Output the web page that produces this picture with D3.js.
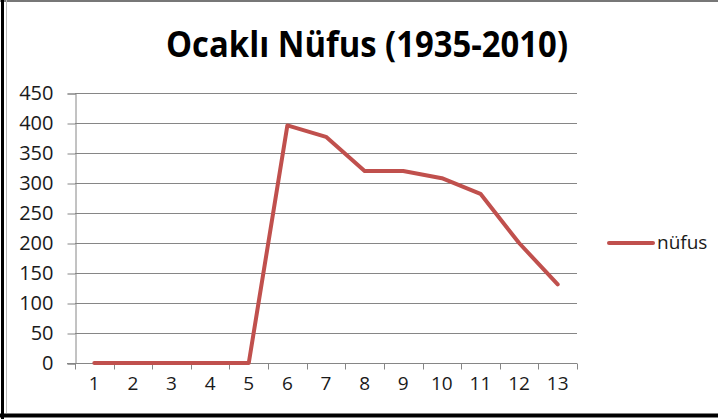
<!DOCTYPE html>
<html>
<head>
<meta charset="utf-8">
<script src="https://cdn.jsdelivr.net/npm/d3@7"></script>
<style>
  body { margin: 0; background: #fff; }
  text { font-family: 'Open Sans', sans-serif; }
</style>
</head>
<body>
<script>
// Ocaklı nüfus, 13 sayım (1935-2010)
const categories = ['1', '2', '3', '4', '5', '6', '7', '8', '9', '10', '11', '12', '13']
const nufus = [0, 0, 0, 0, 0, 396, 377, 320, 320, 308, 282, 200, 131]
const yTicks = [0, 50, 100, 150, 200, 250, 300, 350, 400, 450]
const seriesName = 'nüfus'
const title = 'Ocaklı Nüfus (1935-2010)'

const width = 718
const height = 419
const plot = { left: 75, right: 577, top: 93, bottom: 363 }
const gridColor = '#868686'
const lineColor = '#C0504D'

const svg = d3.select('body')
  .append('svg')
  .attr('width', width)
  .attr('height', height)

// frame (screenshot border)
svg.append('line').attr('x1', 0).attr('x2', width).attr('y1', 1).attr('y2', 1)
  .attr('stroke', '#777').attr('stroke-width', 2)
svg.append('line').attr('x1', 2.5).attr('x2', 2.5).attr('y1', 0).attr('y2', height)
  .attr('stroke', '#000').attr('stroke-width', 3)
svg.append('line').attr('x1', 6.5).attr('x2', 6.5).attr('y1', 0).attr('y2', 413)
  .attr('stroke', '#bbb').attr('stroke-width', 1)
svg.append('line').attr('x1', 0).attr('x2', width).attr('y1', 415.5).attr('y2', 415.5)
  .attr('stroke', '#000').attr('stroke-width', 4)

// title
svg.append('text')
  .attr('x', 367)
  .attr('y', 57)
  .attr('text-anchor', 'middle')
  .attr('font-size', 36)
  .attr('font-weight', 'bold')
  .attr('fill', '#000')
  .attr('textLength', 402)
  .attr('lengthAdjust', 'spacingAndGlyphs')
  .text(title)

const x = d3.scaleBand()
  .domain(categories)
  .range([plot.left, plot.right])

const y = d3.scaleLinear()
  .domain([0, 450])
  .range([plot.bottom, plot.top])

// horizontal gridlines
svg.append('g')
  .selectAll('line')
  .data(yTicks.filter(d => d > 0))
  .enter()
  .append('line')
  .attr('x1', plot.left)
  .attr('x2', plot.right)
  .attr('y1', d => Math.round(y(d)) + 0.5)
  .attr('y2', d => Math.round(y(d)) + 0.5)
  .attr('stroke', gridColor)
  .attr('stroke-width', 1)

// y axis
const yAxis = svg.append('g')
  .attr('transform', `translate(${plot.left + 0.5},0.5)`)
  .call(d3.axisLeft(y).tickValues(yTicks).tickSize(8).tickPadding(14))
yAxis.select('.domain').attr('stroke', gridColor)
yAxis.selectAll('.tick line').attr('stroke', gridColor)
yAxis.selectAll('.tick text')
  .attr('font-size', 20)
  .attr('fill', '#1a1a1a')
  .style('font-family', "'Open Sans', sans-serif")

// x axis (ticks between categories)
const xAxis = svg.append('g')
  .attr('transform', `translate(0,${plot.bottom + 0.5})`)
  .call(d3.axisBottom(x).tickSize(0).tickPadding(13))
xAxis.select('.domain').remove()
xAxis.append('line')
  .attr('x1', plot.left - 8).attr('x2', plot.right)
  .attr('stroke', gridColor)
xAxis.selectAll('.boundary')
  .data(categories.concat(['end']))
  .enter()
  .append('line')
  .attr('class', 'boundary')
  .attr('x1', (d, i) => Math.round(plot.left + i * x.step()) + 0.5)
  .attr('x2', (d, i) => Math.round(plot.left + i * x.step()) + 0.5)
  .attr('y1', 0)
  .attr('y2', 6)
  .attr('stroke', gridColor)
xAxis.selectAll('.tick text')
  .attr('font-size', 19)
  .attr('fill', '#1a1a1a')
  .style('font-family', "'Open Sans', sans-serif")

// series line
const line = d3.line()
  .x((d, i) => x(categories[i]) + x.bandwidth() / 2)
  .y(d => y(d))

svg.append('path')
  .datum(nufus)
  .attr('d', line)
  .attr('fill', 'none')
  .attr('stroke', lineColor)
  .attr('stroke-width', 4)
  .attr('stroke-linejoin', 'round')
  .attr('stroke-linecap', 'round')

// legend
const legend = svg.append('g').attr('transform', 'translate(609,243)')
legend.append('line')
  .attr('x1', 0).attr('x2', 44)
  .attr('stroke', lineColor)
  .attr('stroke-width', 4)
  .attr('stroke-linecap', 'round')
legend.append('text')
  .attr('x', 48)
  .attr('y', 6)
  .attr('font-size', 19)
  .attr('fill', '#1a1a1a')
  .text(seriesName)
</script>
</body>
</html>
